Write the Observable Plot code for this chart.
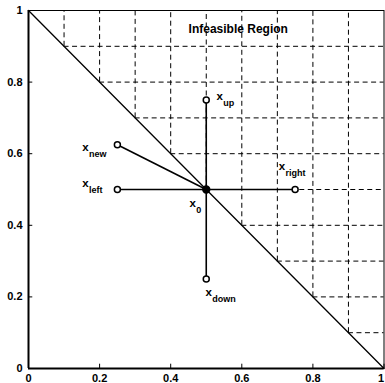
<!DOCTYPE html>
<html>
<head>
<meta charset="utf-8">
<script src="https://cdn.jsdelivr.net/npm/d3@7"></script>
<script src="https://cdn.jsdelivr.net/npm/@observablehq/plot@0.6"></script>
<style>
  html, body { margin: 0; padding: 0; background: #fff; }
</style>
</head>
<body>
<div id="chart"></div>
<script>
// ---- data ----
const axisTicks = [0, 0.2, 0.4, 0.6, 0.8, 1];
const axisTickLabels = ["0", "0.2", "0.4", "0.6", "0.8", "1"];
const gridLevels = [0.1, 0.2, 0.3, 0.4, 0.5, 0.6, 0.7, 0.8, 0.9];
const gridStarts = [0.9, 0.8, 0.7, 0.6, 0.5, 0.4, 0.3, 0.2, 0.1];
const boundaryX = [0, 1];
const boundaryY = [1, 0];
const centerX = 0.5;
const centerY = 0.5;
const pointNames = ["up", "down", "left", "right", "new"];
const pointX = [0.5, 0.5, 0.25, 0.75, 0.25];
const pointY = [0.75, 0.25, 0.5, 0.5, 0.625];
const labelNames = ["new", "left", "up", "0", "right", "down"];
const labelX = [0.16, 0.16, 0.538, 0.462, 0.713, 0.507];
const labelY = [0.618, 0.517, 0.761, 0.462, 0.565, 0.213];
const regionLabel = "Infeasible Region";
const regionX = 0.59;
const regionY = 0.948;

// ---- tables ----
const grid = gridLevels.map((g, i) => ({g, s: gridStarts[i]}));
const boundary = boundaryX.map((x, i) => ({x, y: boundaryY[i]}));
const pts = pointNames.map((n, i) => ({n, x: pointX[i], y: pointY[i]}));
const labels = labelNames.map((n, i) => ({n, x: labelX[i], y: labelY[i]}));

const font = "'Liberation Sans', Arial, Helvetica, sans-serif";
const xInner = axisTicks.slice(0, -1);
const xLast = axisTicks.slice(-1);

const chart = Plot.plot({
  width: 385,
  height: 383,
  marginLeft: 28,
  marginRight: 1.5,
  marginTop: 10,
  marginBottom: 15,
  x: {domain: [0, 1]},
  y: {domain: [0, 1]},
  style: {fontFamily: font, background: "white", color: "black"},
  marks: [
    Plot.frame({stroke: "black", strokeWidth: 1}),
    // dashed grid in infeasible region
    Plot.ruleX(grid, {x: "g", y1: "s", y2: 1, stroke: "black", strokeWidth: 1, strokeDasharray: "5,3.5"}),
    Plot.ruleY(grid, {y: "g", x1: "s", x2: 1, stroke: "black", strokeWidth: 1, strokeDasharray: "5,3.5"}),
    // boundary line
    Plot.line(boundary, {x: "x", y: "y", stroke: "black", strokeWidth: 1.3}),
    // spokes
    Plot.link(pts, {x1: () => centerX, y1: () => centerY, x2: "x", y2: "y", stroke: "black", strokeWidth: 1.6}),
    Plot.dot(pts, {x: "x", y: "y", r: 3, stroke: "black", strokeWidth: 1.5, fill: "white"}),
    Plot.dot([{x: centerX, y: centerY}], {x: "x", y: "y", r: 3.2, stroke: "black", strokeWidth: 2, fill: "black"}),
    // axes
    Plot.ruleX([0], {stroke: "black", strokeWidth: 2}),
    Plot.ruleY([0], {stroke: "black", strokeWidth: 2}),
    Plot.ruleX(axisTicks, {x: d => d, y1: 0, y2: 0.012, stroke: "black", strokeWidth: 1}),
    Plot.ruleY(axisTicks, {y: d => d, x1: 0, x2: 0.012, stroke: "black", strokeWidth: 1}),
    Plot.axisX({ticks: xInner, tickFormat: d => axisTickLabels[axisTicks.indexOf(d)], tickSize: 0, tickPadding: 6, fontSize: 11, fontWeight: "bold", label: null}),
    Plot.axisX({ticks: xLast, tickFormat: d => axisTickLabels[axisTicks.indexOf(d)], tickSize: 0, tickPadding: 6, dx: -3, fontSize: 11, fontWeight: "bold", label: null}),
    Plot.axisY({ticks: axisTicks, tickFormat: (d, i) => axisTickLabels[i], tickSize: 0, tickPadding: 6, fontSize: 11, fontWeight: "bold", label: null}),
    // labels
    Plot.text(labels, {x: "x", y: "y", text: () => "x", fontSize: 11.5, fontWeight: "bold", textAnchor: "middle", lineAnchor: "middle", fill: "black"}),
    Plot.text(labels, {x: "x", y: "y", text: "n", dx: 3.5, dy: 7, fontSize: 9, fontWeight: "bold", textAnchor: "start", lineAnchor: "middle", fill: "black"}),
    Plot.text([regionLabel], {x: () => regionX, y: () => regionY, text: d => d, fontSize: 12, fontWeight: "bold", textAnchor: "middle", lineAnchor: "middle", fill: "black"})
  ]
});
document.getElementById("chart").appendChild(chart);
</script>
</body>
</html>
